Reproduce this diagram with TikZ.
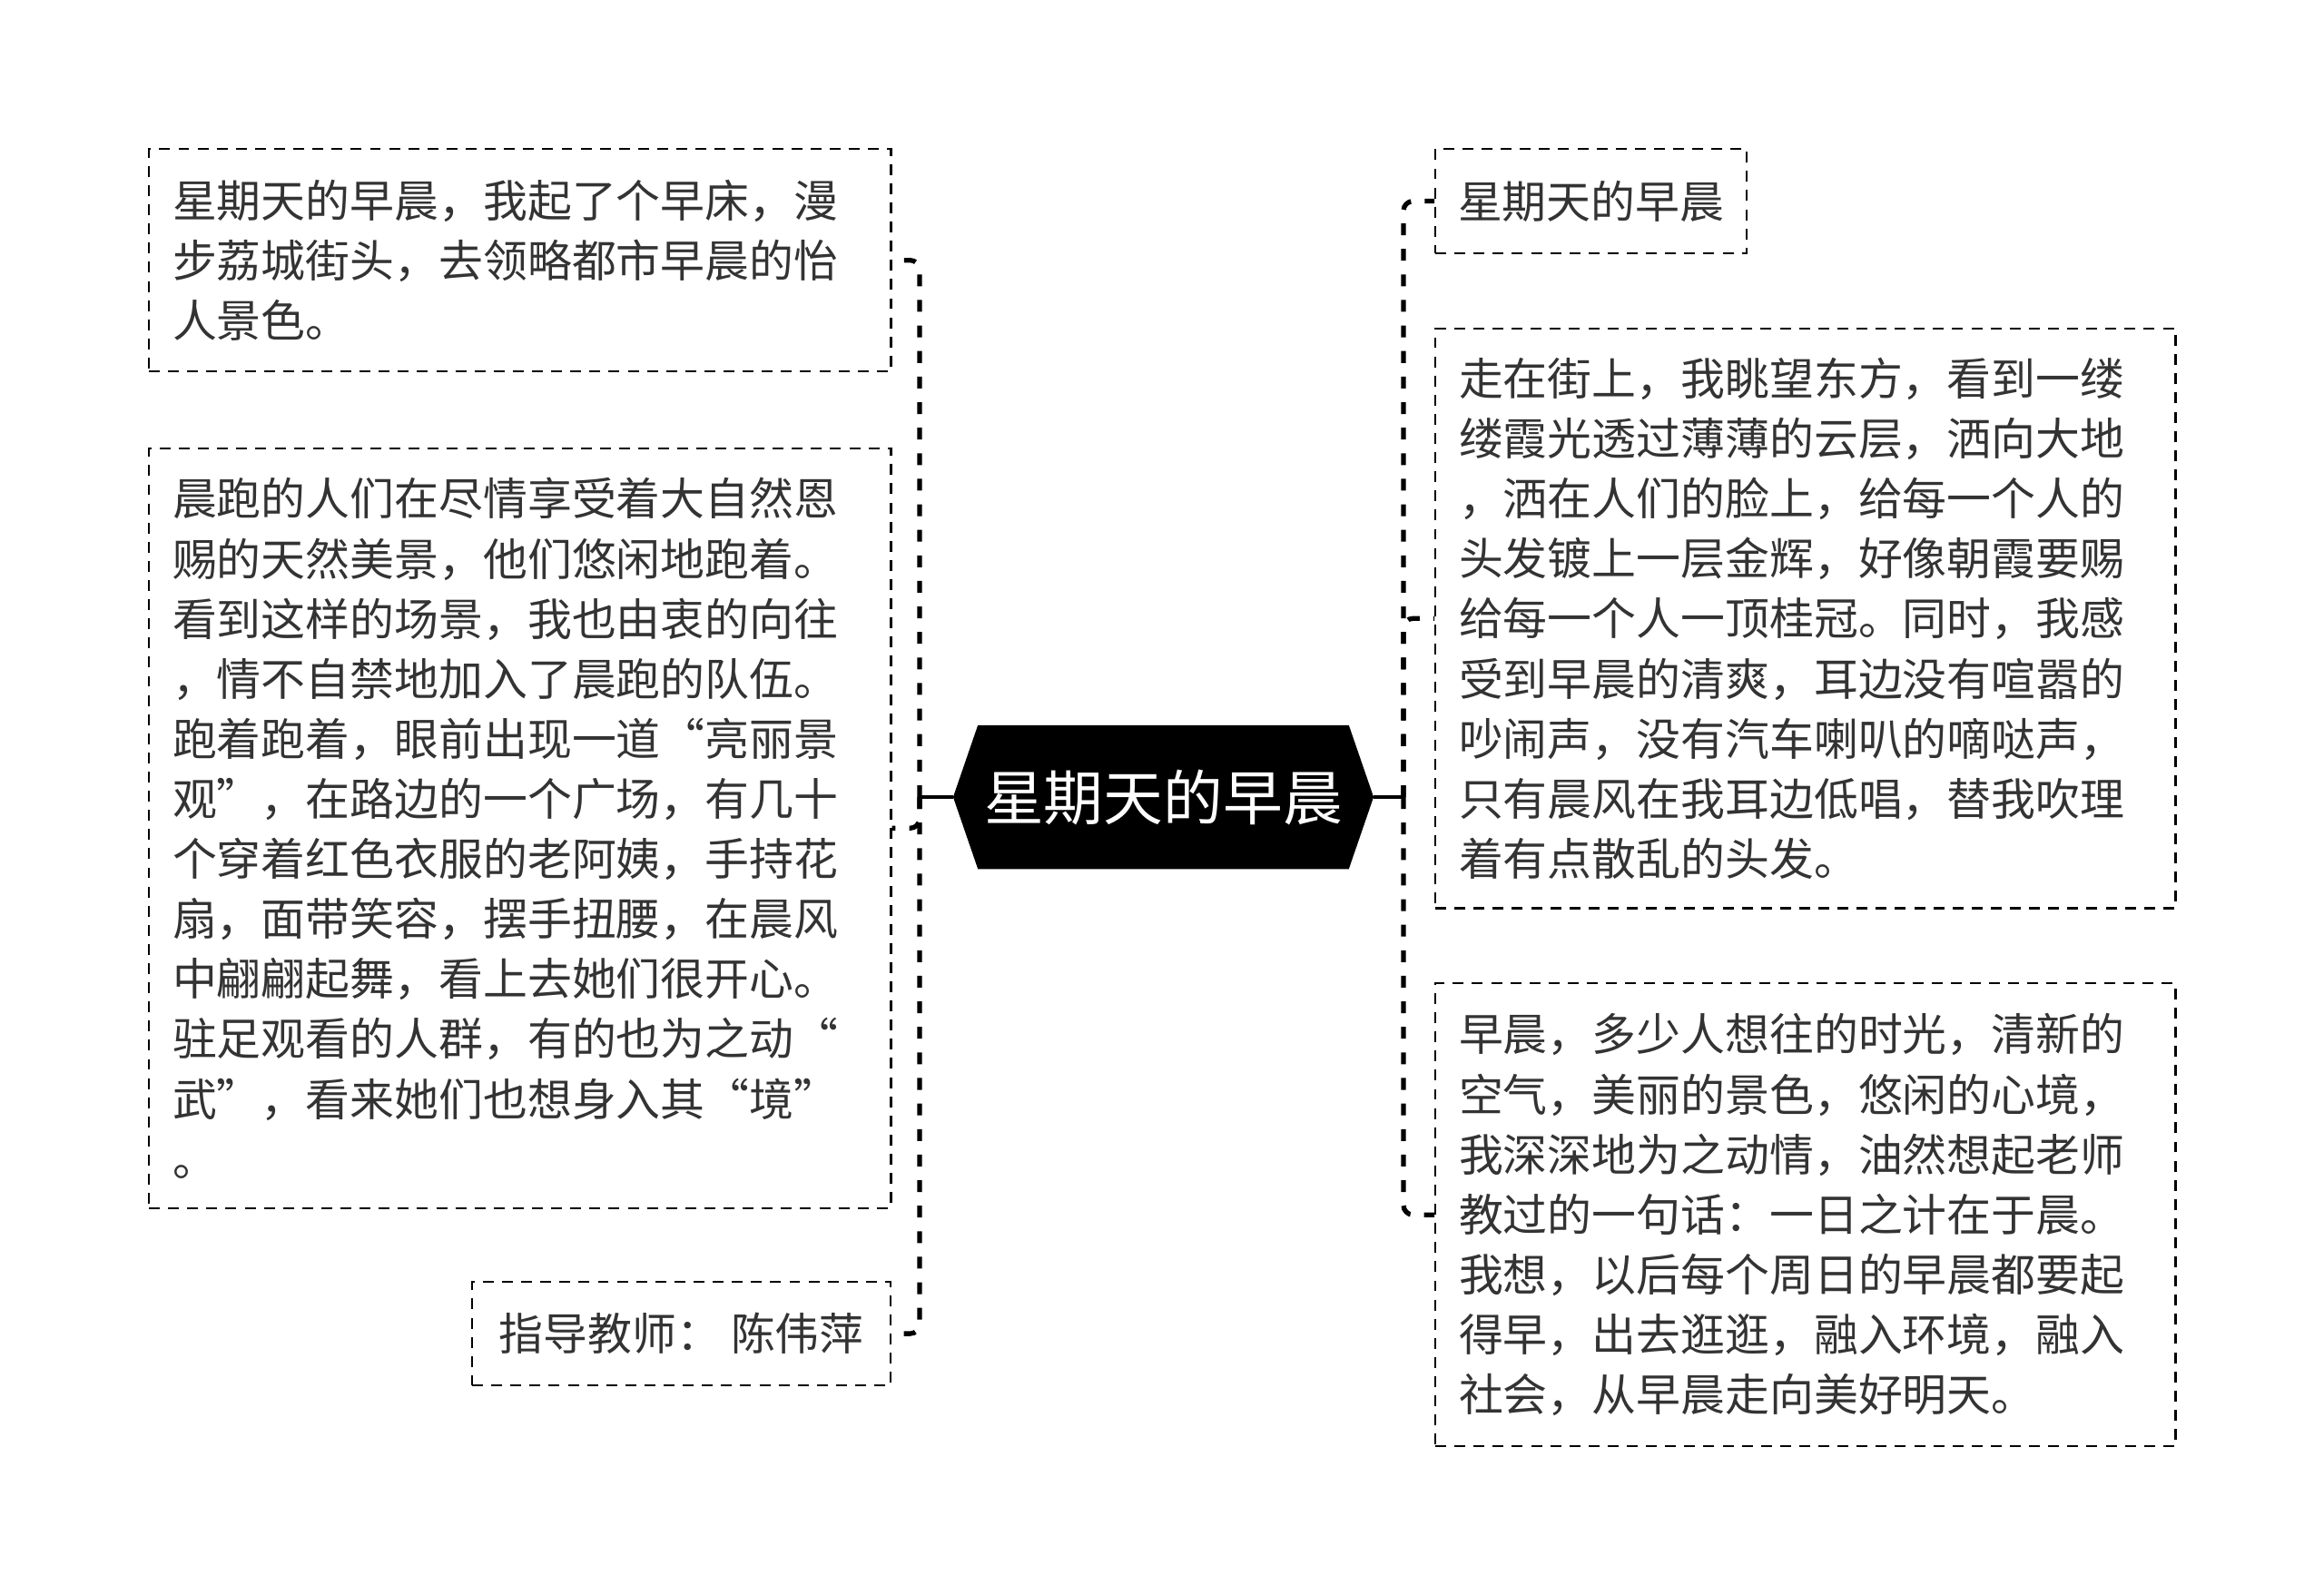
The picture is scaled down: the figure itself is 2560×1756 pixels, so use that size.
\documentclass[tikz,border=0pt]{standalone}
\usepackage{fontspec}
\newfontfamily\cjk{Noto Sans CJK SC}
\usetikzlibrary{shapes.symbols}
\definecolor{testo}{HTML}{333333}

\begin{document}
\begin{tikzpicture}[x=0.01cm, y=-0.01cm,
  every node/.style={font=\cjk\fontsize{13.9pt}{18.8pt}\selectfont, text=testo},
  box/.style={rectangle, draw=black, line width=0.6pt, dash pattern=on 3.4pt off 2.6pt, anchor=north west, inner xsep=0.26cm, inner ysep=0pt, align=left},
  ramo/.style={draw=black, line width=1.5pt, dash pattern=on 3.7pt off 4.3pt, rounded corners=3pt},
  centro/.style={signal, signal to=west and east, signal pointer angle=142, fill=black, draw=black, text=white, font=\cjk\fontsize{18.7pt}{22pt}\selectfont, inner xsep=0.065cm, minimum height=1.57cm}]

\useasboundingbox (0,0) rectangle (2560,1756);

% Nodo centrale
\node[centro] (root) at (1281.5,878) {星期天的早晨};
\coordinate (sx) at (1013,878);
\coordinate (dx) at (1546,878);

% Rami a sinistra
\node[box, text width=7.65cm, minimum height=2.45cm] (l1) at (163,163) {星期天的早晨，我起了个早床，漫\\步荔城街头，去领略都市早晨的怡\\人景色。};
\node[box, text width=7.65cm, minimum height=8.36cm] (l2) at (163,493) {晨跑的人们在尽情享受着大自然恩\\赐的天然美景，他们悠闲地跑着。\\看到这样的场景，我也由衷的向往\\，情不自禁地加入了晨跑的队伍。\\跑着跑着，眼前出现一道“亮丽景\\观”，在路边的一个广场，有几十\\个穿着红色衣服的老阿姨，手持花\\扇，面带笑容，摆手扭腰，在晨风\\中翩翩起舞，看上去她们很开心。\\驻足观看的人群，有的也为之动“\\武”，看来她们也想身入其“境”\\。};
\node[box, inner xsep=0pt, minimum width=4.61cm, minimum height=1.14cm] (l3) at (519,1411) {指导教师： 陈伟萍};

% Rami a destra
\node[box, inner xsep=0pt, minimum width=3.43cm, minimum height=1.15cm] (r1) at (1580,163) {星期天的早晨};
\node[box, text width=7.63cm, minimum height=6.38cm] (r2) at (1580,361) {走在街上，我眺望东方，看到一缕\\缕霞光透过薄薄的云层，洒向大地\\，洒在人们的脸上，给每一个人的\\头发镀上一层金辉，好像朝霞要赐\\给每一个人一顶桂冠。同时，我感\\受到早晨的清爽，耳边没有喧嚣的\\吵闹声，没有汽车喇叭的嘀哒声，\\只有晨风在我耳边低唱，替我吹理\\着有点散乱的头发。};
\node[box, text width=7.63cm, minimum height=5.10cm] (r3) at (1580,1082) {早晨，多少人想往的时光，清新的\\空气，美丽的景色，悠闲的心境，\\我深深地为之动情，油然想起老师\\教过的一句话：一日之计在于晨。\\我想，以后每个周日的早晨都要起\\得早，出去逛逛，融入环境，融入\\社会，从早晨走向美好明天。};

% Archi
\draw[line width=1pt] (root.west) -- (sx);
\draw[line width=1pt] (root.east) -- (dx);
\draw[ramo] (sx) |- (l1.east);
\draw[ramo] (sx) |- (l2.east);
\draw[ramo] (sx) |- (l3.east);
\draw[ramo] (dx) |- (r1.west);
\draw[ramo] (dx) |- (r2.west);
\draw[ramo] (dx) |- (r3.west);

\end{tikzpicture}
\end{document}
